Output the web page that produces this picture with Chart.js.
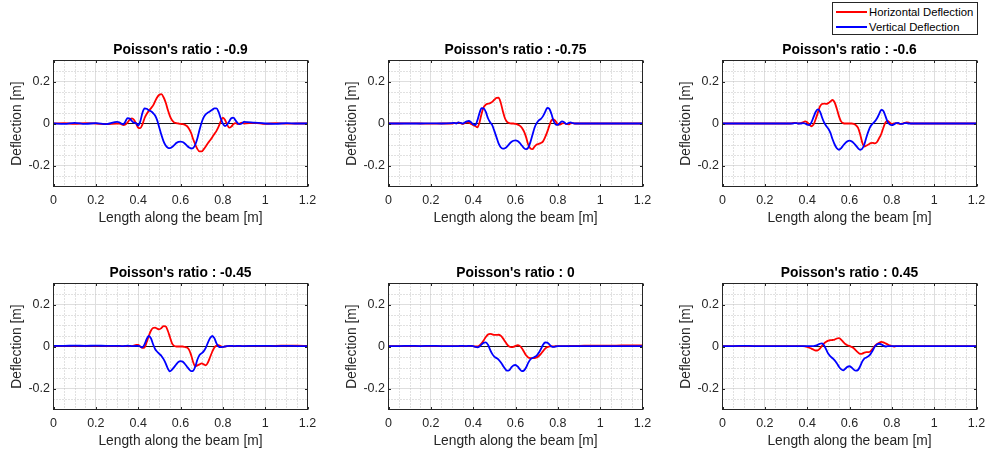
<!DOCTYPE html>
<html>
<head>
<meta charset="utf-8">
<script src="https://cdn.jsdelivr.net/npm/chart.js@4.4.1/dist/chart.umd.min.js"></script>
<style>
  html, body { margin: 0; padding: 0; background: #fff; }
  body { position: relative; width: 989px; height: 456px; overflow: hidden;
         font-family: "Liberation Sans", Arial, Helvetica, sans-serif; }
  canvas { position: absolute; }
  #legend { position: absolute; left: 832px; top: 2px; width: 144px; height: 31px;
            border: 1px solid #262626; background: #fff; }
  #legend .item { position: absolute; left: 0; height: 14px; font-size: 11.3px;
                  line-height: 14px; color: #000; white-space: nowrap; }
  #legend .swatch { position: absolute; left: 3px; top: 6px; width: 31px; height: 2px; }
  #legend .label { position: absolute; left: 36px; top: 0; }
</style>
</head>
<body>
<div id="legend"></div>

<script>
// Sample positions along the beam [m]
const xPos = [0, 0.05, 0.1, 0.15, 0.2, 0.25,
  0.30, 0.31, 0.32, 0.33, 0.34, 0.35, 0.36, 0.37, 0.38, 0.39,
  0.40, 0.41, 0.42, 0.43, 0.44, 0.45, 0.46, 0.47, 0.48, 0.49,
  0.50, 0.51, 0.52, 0.53, 0.54, 0.55, 0.56, 0.57, 0.58, 0.59,
  0.60, 0.61, 0.62, 0.63, 0.64, 0.65, 0.66, 0.67, 0.68, 0.69,
  0.70, 0.71, 0.72, 0.73, 0.74, 0.75, 0.76, 0.77, 0.78, 0.79,
  0.80, 0.81, 0.82, 0.83, 0.84, 0.85, 0.86, 0.87, 0.88, 0.89,
  0.90, 0.95, 1.0, 1.05, 1.1, 1.15, 1.2];

// Poisson's ratio for each panel
const poissonRatios = ['-0.9', '-0.75', '-0.6', '-0.45', '0', '0.45'];

// Horizontal deflection [m]
const horizontal1 = [0, 0.002, -0.002, 0.002, 0, -0.003,
  0, 0, -0.003, -0.008, -0.005, 0.005, 0.018, 0.024, 0.018, 0,
  -0.02, -0.022, -0.005, 0.025, 0.045, 0.06, 0.072, 0.085, 0.105, 0.125,
  0.137, 0.14, 0.125, 0.1, 0.065, 0.035, 0.015, 0.005, 0.002, 0,
  -0.002, -0.003, -0.006, -0.012, -0.025, -0.045, -0.075, -0.1, -0.122, -0.133,
  -0.133, -0.122, -0.108, -0.093, -0.08, -0.065, -0.05, -0.035, -0.015, 0.01,
  0.028, 0.018, -0.005, -0.02, -0.015, -0.003, 0.002, -0.003, 0, 0.004,
  0, 0.003, -0.002, 0.002, -0.001, 0, 0];
const horizontal2 = [0, 0, 0.001, 0, -0.001, 0,
  0, 0.002, 0.002, 0.004, 0.002, -0.002, 0.002, 0.006, 0.004, -0.002,
  -0.008, -0.012, -0.018, 0.005, 0.048, 0.078, 0.09, 0.094, 0.097, 0.103,
  0.113, 0.122, 0.123, 0.1, 0.06, 0.025, 0.008, 0.002, 0, 0,
  -0.002, -0.005, -0.01, -0.02, -0.038, -0.065, -0.1, -0.118, -0.122, -0.11,
  -0.1, -0.097, -0.093, -0.085, -0.065, -0.04, -0.01, 0.015, 0.02, 0.01,
  -0.003, -0.005, 0, 0.002, -0.002, -0.004, 0, 0.002, 0, 0,
  0, 0, 0, 0, 0, 0, 0];
const horizontal3 = [0, 0, 0, 0, 0, 0,
  0, 0, 0, 0.002, 0.003, 0.002, 0, 0.002, 0.005, 0.01,
  0.006, -0.005, -0.013, -0.005, 0.02, 0.05, 0.08, 0.093, 0.095, 0.093,
  0.097, 0.105, 0.112, 0.1, 0.07, 0.035, 0.01, 0.002, 0, 0,
  0, 0, -0.002, -0.008, -0.02, -0.05, -0.09, -0.11, -0.105, -0.1,
  -0.093, -0.092, -0.095, -0.088, -0.07, -0.05, -0.02, 0.005, 0.012, 0.005,
  -0.002, 0, 0.002, 0, -0.002, 0, 0.003, 0.005, 0.004, 0,
  0, 0, 0, 0, 0, 0, 0];
const horizontal4 = [0.003, 0.003, 0.003, 0.003, 0.003, 0.002,
  0.002, 0.002, 0.002, 0.002, 0.002, 0.003, 0.002, 0.002, 0.004, 0.008,
  0.008, 0, -0.006, -0.005, 0.02, 0.05, 0.075, 0.088, 0.09, 0.085,
  0.082, 0.088, 0.097, 0.096, 0.075, 0.045, 0.015, 0.003, 0, 0,
  0, 0, -0.002, -0.005, -0.015, -0.04, -0.075, -0.095, -0.09, -0.085,
  -0.08, -0.085, -0.09, -0.075, -0.05, -0.025, -0.005, 0.004, 0.006, 0.002,
  -0.002, 0, 0.002, 0.002, 0.002, 0.002, 0.002, 0.002, 0.002, 0.002,
  0.002, 0.003, 0.003, 0.003, 0.004, 0.004, 0.003];
const horizontal5 = [0.002, 0.002, 0.002, 0.002, 0.002, 0.002,
  0.002, 0.002, 0.002, 0.002, 0.002, 0.002, 0.002, 0.002, 0.002, 0.003,
  0.002, 0, 0, 0.005, 0.015, 0.03, 0.045, 0.057, 0.06, 0.058,
  0.055, 0.055, 0.056, 0.052, 0.04, 0.025, 0.01, 0, -0.003, -0.002,
  0.003, 0.006, 0.003, -0.008, -0.025, -0.042, -0.052, -0.055, -0.055, -0.055,
  -0.052, -0.045, -0.035, -0.022, -0.01, -0.003, 0, 0.002, 0, 0.002,
  0.002, 0.002, 0.002, 0.002, 0.002, 0.002, 0.003, 0.003, 0.003, 0.003,
  0.003, 0.004, 0.004, 0.004, 0.005, 0.005, 0.005];
const horizontal6 = [0.002, 0.002, 0.002, 0.002, 0.002, 0.002,
  0.002, 0.002, 0.002, 0.002, 0.002, 0.002, 0.002, 0.002, 0.002, 0.001,
  -0.002, -0.006, -0.01, -0.015, -0.019, -0.018, -0.01, 0.003, 0.015, 0.023,
  0.028, 0.03, 0.031, 0.033, 0.038, 0.04, 0.033, 0.022, 0.012, 0.006,
  0.003, -0.002, -0.008, -0.018, -0.028, -0.035, -0.034, -0.029, -0.027, -0.027,
  -0.022, -0.01, 0.003, 0.012, 0.018, 0.022, 0.02, 0.015, 0.01, 0.005,
  0.002, 0, 0.002, 0.002, 0.002, 0.002, 0.002, 0.002, 0.002, 0.002,
  0.002, 0.002, 0.002, 0.002, 0.002, 0.002, 0.002];

// Vertical deflection [m]
const vertical1 = [0, -0.002, 0.003, -0.002, 0.002, -0.003,
  0.008, 0.006, 0, -0.004, 0.01, 0.026, 0.024, 0.012, 0.004, 0.002,
  -0.01, 0.01, 0.05, 0.072, 0.07, 0.063, 0.058, 0.05, 0.038, 0.015,
  -0.02, -0.055, -0.085, -0.105, -0.115, -0.117, -0.112, -0.103, -0.093, -0.087,
  -0.086, -0.088, -0.095, -0.105, -0.114, -0.119, -0.117, -0.1, -0.07, -0.03,
  0.005, 0.03, 0.045, 0.052, 0.058, 0.065, 0.072, 0.072, 0.055, 0.025,
  0, -0.012, -0.005, 0.01, 0.025, 0.028, 0.015, 0.002, -0.003, 0,
  0.008, 0.004, 0, -0.002, 0.002, 0, 0];
const vertical2 = [0, 0, 0, 0, 0.001, 0,
  0.002, 0.003, 0, 0.005, 0.003, 0, 0.005, 0.01, 0.012, 0.006,
  -0.004, -0.008, 0.015, 0.05, 0.073, 0.072, 0.055, 0.025, 0.006, -0.008,
  -0.035, -0.065, -0.095, -0.113, -0.12, -0.118, -0.11, -0.098, -0.088, -0.082,
  -0.08, -0.083, -0.092, -0.105, -0.117, -0.122, -0.115, -0.09, -0.055, -0.02,
  0.002, 0.015, 0.022, 0.035, 0.055, 0.074, 0.07, 0.045, 0.012, -0.005,
  -0.007, 0.003, 0.01, 0.006, -0.002, 0.002, 0.005, 0.002, 0, 0,
  0, 0, 0, 0, 0, 0, 0];
const vertical3 = [0, 0, 0, 0, 0, 0,
  0, 0, 0, 0, 0.002, 0.002, 0, 0, 0.002, 0,
  -0.006, -0.008, 0.005, 0.03, 0.055, 0.067, 0.058, 0.03, 0.005, -0.012,
  -0.025, -0.045, -0.075, -0.1, -0.118, -0.125, -0.118, -0.105, -0.093, -0.085,
  -0.082, -0.085, -0.093, -0.105, -0.117, -0.125, -0.12, -0.1, -0.065, -0.035,
  -0.012, 0, 0.01, 0.025, 0.045, 0.065, 0.06, 0.035, 0.008, -0.004,
  -0.008, -0.004, 0.002, 0.003, -0.002, -0.002, 0.002, 0.002, 0, 0,
  0, 0, 0, 0, 0, 0, 0];
const vertical4 = [0.003, 0.003, 0.004, 0.003, 0.004, 0.003,
  0.003, 0.003, 0.002, 0.002, 0.003, 0.004, 0.003, 0.002, 0.002, 0.003,
  0.003, 0, -0.004, 0.01, 0.035, 0.05, 0.04, 0.012, -0.012, -0.025,
  -0.035, -0.045, -0.06, -0.08, -0.105, -0.118, -0.11, -0.098, -0.085, -0.074,
  -0.07, -0.072, -0.082, -0.095, -0.108, -0.117, -0.115, -0.095, -0.062, -0.04,
  -0.032, -0.022, -0.005, 0.02, 0.04, 0.05, 0.04, 0.015, 0, -0.003,
  -0.002, 0, 0.002, 0.003, 0.003, 0.002, 0.002, 0.003, 0.003, 0.002,
  0.002, 0.003, 0.003, 0.002, 0.003, 0.002, 0.002];
const vertical5 = [0.002, 0.002, 0.003, 0.002, 0.003, 0.002,
  0.002, 0.002, 0.002, 0.002, 0.003, 0.003, 0.002, 0.002, 0.003, 0.003,
  0.002, -0.002, -0.004, 0, 0.01, 0.018, 0.02, 0.008, -0.015, -0.035,
  -0.048, -0.055, -0.062, -0.075, -0.09, -0.105, -0.115, -0.113, -0.1, -0.09,
  -0.088, -0.095, -0.108, -0.117, -0.114, -0.1, -0.078, -0.062, -0.055, -0.05,
  -0.043, -0.03, -0.012, 0.008, 0.019, 0.018, 0.01, 0, -0.002, 0,
  0.002, 0.002, 0.002, 0.002, 0.002, 0.002, 0.002, 0.002, 0.002, 0.002,
  0.002, 0.002, 0.002, 0.002, 0.002, 0.002, 0.002];
const vertical6 = [0.002, 0.002, 0.003, 0.002, 0.002, 0.002,
  0.002, 0.002, 0.002, 0.002, 0.002, 0.002, 0.002, 0.002, 0.002, 0.002,
  0.002, 0.002, 0.002, 0.002, 0.004, 0.008, 0.013, 0.015, 0.005, -0.015,
  -0.035, -0.047, -0.056, -0.066, -0.08, -0.096, -0.108, -0.114, -0.106, -0.097,
  -0.094, -0.1, -0.11, -0.115, -0.112, -0.095, -0.072, -0.058, -0.052, -0.046,
  -0.035, -0.018, 0, 0.01, 0.013, 0.01, 0.004, 0, 0.002, 0.002,
  0.002, 0.002, 0.002, 0.002, 0.002, 0.002, 0.002, 0.002, 0.002, 0.002,
  0.002, 0.002, 0.002, 0.002, 0.002, 0.002, 0.002];

// Reference line y = 0
const zeroX = [0, 1.2];
const zeroY = [0, 0];

// Axis ticks
const xTickValues = [0, 0.2, 0.4, 0.6, 0.8, 1.0, 1.2];
const xTickLabels = ['0', '0.2', '0.4', '0.6', '0.8', '1', '1.2'];
const yTickValues = [-0.2, 0, 0.2];
const yTickLabels = ['-0.2', '0', '0.2'];
const xMinorValues = [0.05, 0.1, 0.15, 0.25, 0.3, 0.35, 0.45, 0.5, 0.55, 0.65, 0.7, 0.75,
                      0.85, 0.9, 0.95, 1.05, 1.1, 1.15];
const yMinorValues = [-0.25, -0.15, -0.1, -0.05, 0.05, 0.1, 0.15, 0.25];

const seriesNames = ['Horizontal Deflection', 'Vertical Deflection'];
const seriesColors = ['#ff0000', '#0000ff'];

const horizontalSeries = [horizontal1, horizontal2, horizontal3, horizontal4, horizontal5, horizontal6];
const verticalSeries = [vertical1, vertical2, vertical3, vertical4, vertical5, vertical6];

// ---- layout ----
const FONT = '"Liberation Sans", Arial, Helvetica, sans-serif';
const AXIS_COLOR = '#262626';
const Y_AXIS_W = 53.5;       // space left of plot box
const X_AXIS_H = 46.5;       // space below plot box
const CANVAS_W = 320;
const CANVAS_H = 193;
const panelOrigins = [[0, 40], [335, 40], [669, 40], [0, 263], [335, 263], [669, 263]];

// legend
(function buildLegend() {
  const box = document.getElementById('legend');
  const tops = [2.3, 16.7];
  seriesNames.forEach((name, i) => {
    const item = document.createElement('div');
    item.className = 'item';
    item.style.top = tops[i] + 'px';
    const sw = document.createElement('div');
    sw.className = 'swatch';
    sw.style.background = seriesColors[i];
    const lb = document.createElement('span');
    lb.className = 'label';
    lb.textContent = name;
    item.appendChild(sw);
    item.appendChild(lb);
    box.appendChild(item);
  });
})();

// minor dotted grid, box outline and inward tick marks
const axesDecor = {
  id: 'axesDecor',
  beforeDatasetsDraw(chart) {
    const { ctx, chartArea: a, scales: { x, y } } = chart;
    ctx.save();
    ctx.strokeStyle = '#c2c2c2';
    ctx.lineWidth = 1;
    ctx.setLineDash([1, 2]);
    ctx.beginPath();
    xMinorValues.forEach(v => {
      const px = Math.round(x.getPixelForValue(v)) + 0.5;
      ctx.moveTo(px, a.top); ctx.lineTo(px, a.bottom);
    });
    yMinorValues.forEach(v => {
      const py = Math.round(y.getPixelForValue(v)) + 0.5;
      ctx.moveTo(a.left, py); ctx.lineTo(a.right, py);
    });
    ctx.stroke();
    ctx.restore();
  },
  afterDatasetsDraw(chart) {
    const { ctx, chartArea: a, scales: { x, y } } = chart;
    ctx.save();
    ctx.strokeStyle = AXIS_COLOR;
    ctx.lineWidth = 1;
    ctx.beginPath();
    const t = 2.5;
    xTickValues.forEach(v => {
      const px = Math.round(x.getPixelForValue(v)) + 0.5;
      ctx.moveTo(px, a.bottom); ctx.lineTo(px, a.bottom - t);
      ctx.moveTo(px, a.top); ctx.lineTo(px, a.top + t);
    });
    yTickValues.forEach(v => {
      const py = Math.round(y.getPixelForValue(v)) + 0.5;
      ctx.moveTo(a.left, py); ctx.lineTo(a.left + t, py);
      ctx.moveTo(a.right, py); ctx.lineTo(a.right - t, py);
    });
    ctx.stroke();
    ctx.strokeRect(a.left, a.top, a.right - a.left, a.bottom - a.top);
    ctx.restore();
  }
};

function toPoints(xs, ys) {
  return xs.map((xv, i) => ({ x: xv, y: ys[i] }));
}

poissonRatios.forEach((nu, p) => {
  const cv = document.createElement('canvas');
  cv.width = CANVAS_W;
  cv.height = CANVAS_H;
  cv.style.left = panelOrigins[p][0] + 'px';
  cv.style.top = panelOrigins[p][1] + 'px';
  cv.style.width = CANVAS_W + 'px';
  cv.style.height = CANVAS_H + 'px';
  document.body.appendChild(cv);

  new Chart(cv, {
    type: 'line',
    data: {
      datasets: [
        { label: seriesNames[0], data: toPoints(xPos, horizontalSeries[p]),
          borderColor: seriesColors[0], borderWidth: 1.8, order: 1 },
        { label: seriesNames[1], data: toPoints(xPos, verticalSeries[p]),
          borderColor: seriesColors[1], borderWidth: 1.8, order: 0 },
        { label: 'zero', data: toPoints(zeroX, zeroY),
          borderColor: '#1a1a1a', borderWidth: 1.2, order: 2 }
      ]
    },
    options: {
      responsive: false,
      animation: false,
      devicePixelRatio: 1,
      events: [],
      layout: { padding: { left: 0, right: CANVAS_W - Y_AXIS_W - 254, top: 0, bottom: 0 } },
      elements: {
        point: { radius: 0 },
        line: { cubicInterpolationMode: 'monotone', fill: false, borderJoinStyle: 'round' }
      },
      plugins: {
        legend: { display: false },
        tooltip: { enabled: false },
        title: {
          display: true,
          fullSize: false,
          text: "Poisson's ratio : " + nu,
          color: '#000',
          font: { family: FONT, size: 13.8, weight: 'bold', lineHeight: 1.2 },
          padding: { top: 2.2, bottom: 1.74 }
        }
      },
      scales: {
        x: {
          type: 'linear',
          min: 0, max: 1.2,
          afterBuildTicks: s => { s.ticks = xTickValues.map(v => ({ value: v })); },
          afterFit: s => { s.height = X_AXIS_H; s.paddingLeft = 0; s.paddingRight = 0; },
          ticks: {
            callback: (v, i) => xTickLabels[i],
            autoSkip: false, maxRotation: 0, minRotation: 0,
            color: AXIS_COLOR, padding: 7,
            font: { family: FONT, size: 12.5 }
          },
          grid: { color: '#dedede', lineWidth: 1, drawTicks: false },
          border: { display: false },
          title: {
            display: true, text: 'Length along the beam [m]', color: AXIS_COLOR,
            font: { family: FONT, size: 13.8, lineHeight: 1.2 },
            padding: { top: 0, bottom: 6.5 }
          }
        },
        y: {
          type: 'linear',
          min: -0.3, max: 0.3,
          afterBuildTicks: s => { s.ticks = yTickValues.map(v => ({ value: v })); },
          afterFit: s => { s.width = Y_AXIS_W; s.paddingTop = 0; s.paddingBottom = 0; },
          ticks: {
            callback: (v, i) => yTickLabels[i],
            autoSkip: false,
            color: AXIS_COLOR, padding: 3.5,
            font: { family: FONT, size: 12.5 }
          },
          grid: { color: '#dedede', lineWidth: 1, drawTicks: false },
          border: { display: false },
          title: {
            display: true, text: 'Deflection [m]', color: AXIS_COLOR,
            font: { family: FONT, size: 13.8, lineHeight: 1.2 },
            padding: { top: 8.7, bottom: 0 }
          }
        }
      }
    },
    plugins: [axesDecor]
  });
});
</script>
</body>
</html>
